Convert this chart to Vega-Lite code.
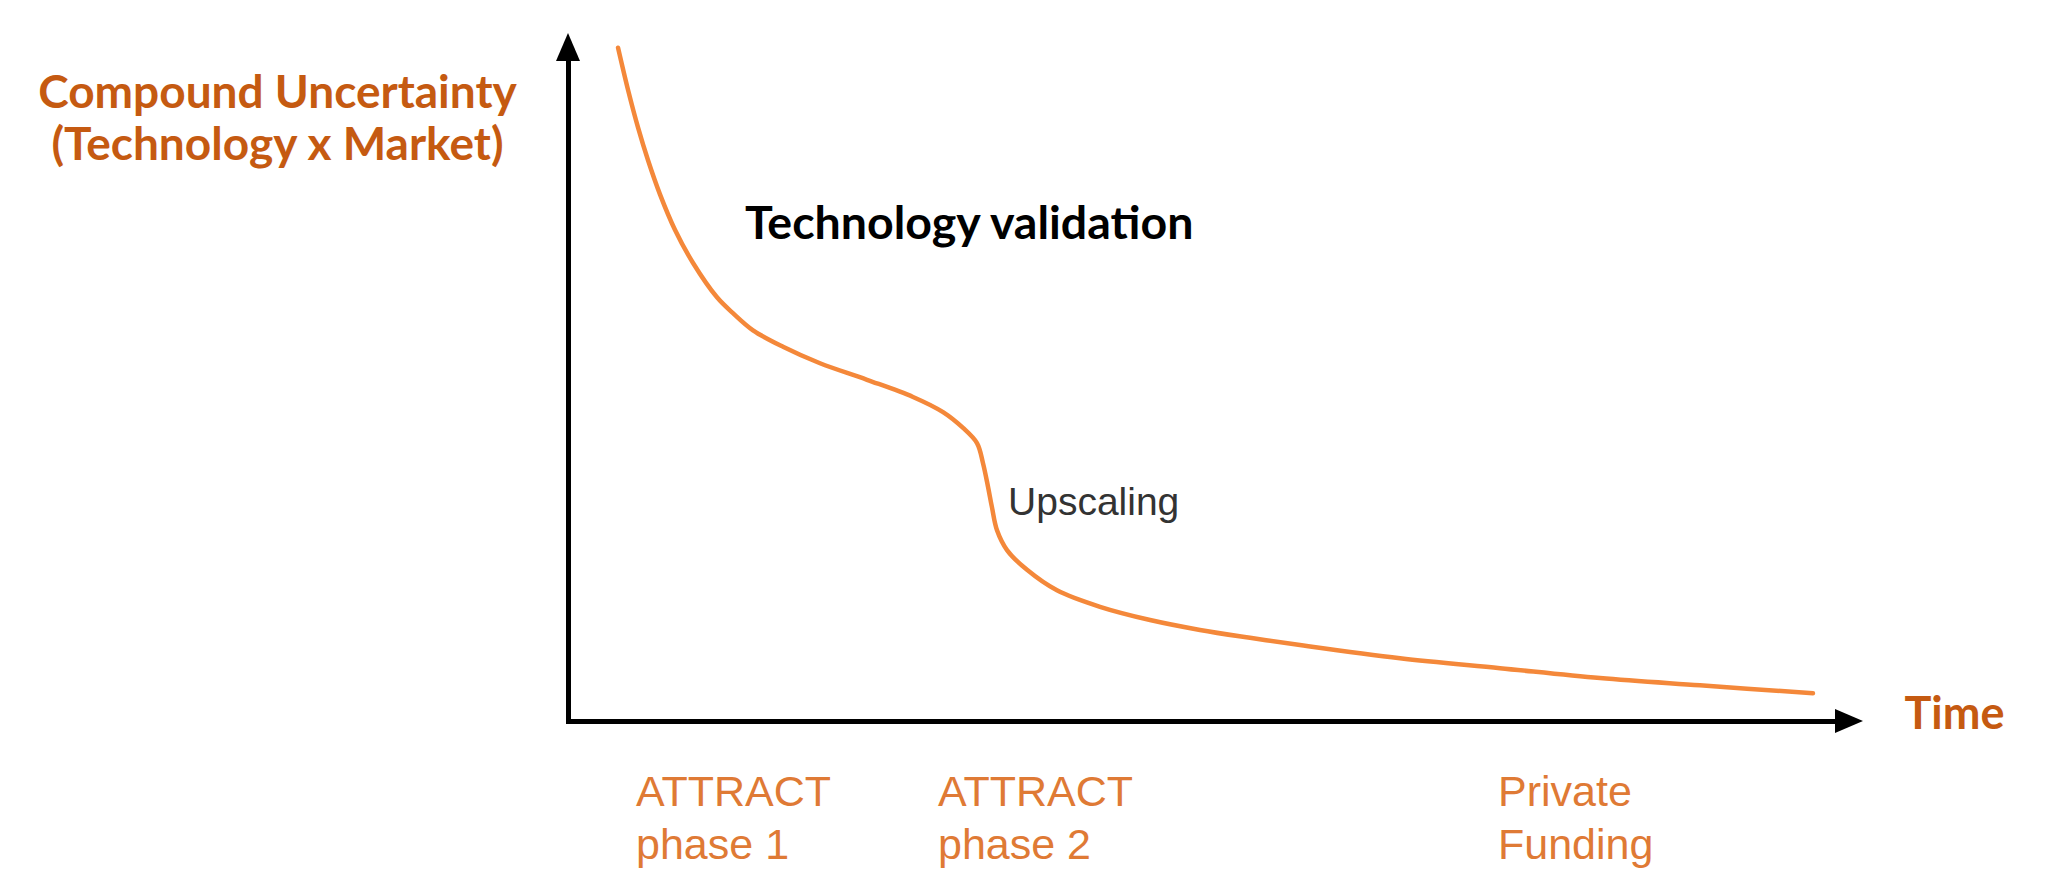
{
  "$schema": "https://vega.github.io/schema/vega-lite/v6.json",
  "width": 1267,
  "height": 660,
  "autosize": {"type": "none"},
  "padding": {"left": 568, "top": 61, "right": 213, "bottom": 175},
  "background": "white",
  "config": {"view": {"stroke": null}},
  "resolve": {"axis": {"x": "independent", "y": "independent"}},
  "datasets": {
    "curve": [
      {"time": 3.95, "uncertainty": 102.0},
      {"time": 4.74, "uncertainty": 95.6},
      {"time": 5.53, "uncertainty": 89.9},
      {"time": 6.31, "uncertainty": 85.0},
      {"time": 7.26, "uncertainty": 79.8},
      {"time": 8.45, "uncertainty": 74.4},
      {"time": 9.87, "uncertainty": 69.4},
      {"time": 11.76, "uncertainty": 64.2},
      {"time": 13.02, "uncertainty": 61.8},
      {"time": 14.6, "uncertainty": 59.2},
      {"time": 16.97, "uncertainty": 56.7},
      {"time": 19.89, "uncertainty": 54.2},
      {"time": 23.6, "uncertainty": 51.7},
      {"time": 27.23, "uncertainty": 49.1},
      {"time": 29.6, "uncertainty": 46.8},
      {"time": 31.18, "uncertainty": 44.4},
      {"time": 32.28, "uncertainty": 42.1},
      {"time": 32.75, "uncertainty": 39.1},
      {"time": 33.15, "uncertainty": 35.5},
      {"time": 33.46, "uncertainty": 32.4},
      {"time": 33.86, "uncertainty": 28.9},
      {"time": 34.65, "uncertainty": 25.9},
      {"time": 36.23, "uncertainty": 22.9},
      {"time": 38.59, "uncertainty": 19.8},
      {"time": 41.99, "uncertainty": 17.3},
      {"time": 45.94, "uncertainty": 15.3},
      {"time": 49.88, "uncertainty": 13.8},
      {"time": 53.83, "uncertainty": 12.6},
      {"time": 57.77, "uncertainty": 11.5},
      {"time": 65.67, "uncertainty": 9.5},
      {"time": 73.56, "uncertainty": 8.0},
      {"time": 81.45, "uncertainty": 6.5},
      {"time": 89.34, "uncertainty": 5.4},
      {"time": 98.26, "uncertainty": 4.2}
    ],
    "notes": [
      {"time": 13.97, "uncertainty": 73.0, "note": "Technology validation"},
      {"time": 34.73, "uncertainty": 31.2, "note": "Upscaling"}
    ],
    "phases": [
      {"time": 5.37, "label": "ATTRACT\nphase 1"},
      {"time": 29.2, "label": "ATTRACT\nphase 2"},
      {"time": 73.4, "label": "Private\nFunding"}
    ],
    "axisEnds": [
      {"time": 0, "uncertainty": 100, "end": "top"},
      {"time": 100, "uncertainty": 0, "end": "right"}
    ]
  },
  "layer": [
    {
      "data": {"name": "curve"},
      "mark": {"type": "line", "interpolate": "catmull-rom", "color": "#F4883A", "strokeWidth": 4.5, "strokeCap": "round", "clip": false},
      "encoding": {
        "x": {
          "field": "time",
          "type": "quantitative",
          "scale": {"domain": [0, 100], "nice": false, "zero": false},
          "axis": {
            "title": "Time",
            "titleX": 1336,
            "titleY": 7,
            "titleAlign": "left",
            "titleBaseline": "alphabetic",
            "titleFont": "Lato",
            "titleFontWeight": "bold",
            "titleFontSize": 45,
            "titleColor": "#C55A11",
            "labels": false,
            "ticks": false,
            "grid": false,
            "domainColor": "black",
            "domainWidth": 5,
            "domainCap": "square"
          }
        },
        "y": {
          "field": "uncertainty",
          "type": "quantitative",
          "scale": {"domain": [0, 100], "nice": false, "zero": false},
          "axis": {
            "title": ["Compound Uncertainty", "(Technology x Market)"],
            "titleAngle": 0,
            "titleX": -291,
            "titleY": 46,
            "titleAlign": "center",
            "titleBaseline": "alphabetic",
            "titleLineHeight": 52,
            "titleFont": "Lato",
            "titleFontWeight": "bold",
            "titleFontSize": 46,
            "titleColor": "#C55A11",
            "labels": false,
            "ticks": false,
            "grid": false,
            "domainColor": "black",
            "domainWidth": 5,
            "domainCap": "square"
          }
        }
      }
    },
    {
      "data": {"name": "notes"},
      "transform": [{"filter": "datum.note == 'Technology validation'"}],
      "mark": {"type": "text", "align": "left", "baseline": "alphabetic", "font": "Lato", "fontWeight": "bold", "fontSize": 46.5, "color": "#000000"},
      "encoding": {
        "x": {"field": "time", "type": "quantitative", "axis": null},
        "y": {"field": "uncertainty", "type": "quantitative", "axis": null},
        "text": {"field": "note", "type": "nominal"}
      }
    },
    {
      "data": {"name": "notes"},
      "transform": [{"filter": "datum.note == 'Upscaling'"}],
      "mark": {"type": "text", "align": "left", "baseline": "alphabetic", "font": "Liberation Sans", "fontSize": 39, "color": "#333333"},
      "encoding": {
        "x": {"field": "time", "type": "quantitative", "axis": null},
        "y": {"field": "uncertainty", "type": "quantitative", "axis": null},
        "text": {"field": "note", "type": "nominal"}
      }
    },
    {
      "data": {"name": "phases"},
      "mark": {"type": "text", "align": "left", "baseline": "alphabetic", "dy": 85, "font": "Liberation Sans", "fontSize": 43, "color": "#DF7A35", "lineBreak": "\n", "lineHeight": 53},
      "encoding": {
        "x": {"field": "time", "type": "quantitative", "axis": null},
        "y": {"datum": 0, "type": "quantitative", "axis": null},
        "text": {"field": "label", "type": "nominal"}
      }
    },
    {
      "data": {"name": "axisEnds"},
      "transform": [{"filter": "datum.end == 'top'"}],
      "mark": {"type": "point", "shape": "M0,-1L0.857,1L-0.857,1Z", "filled": true, "color": "black", "opacity": 1, "size": 784, "yOffset": -14},
      "encoding": {
        "x": {"field": "time", "type": "quantitative", "axis": null},
        "y": {"field": "uncertainty", "type": "quantitative", "axis": null}
      }
    },
    {
      "data": {"name": "axisEnds"},
      "transform": [{"filter": "datum.end == 'right'"}],
      "mark": {"type": "point", "shape": "M1,0L-1,0.857L-1,-0.857Z", "filled": true, "color": "black", "opacity": 1, "size": 784, "xOffset": 14},
      "encoding": {
        "x": {"field": "time", "type": "quantitative", "axis": null},
        "y": {"field": "uncertainty", "type": "quantitative", "axis": null}
      }
    }
  ]
}
